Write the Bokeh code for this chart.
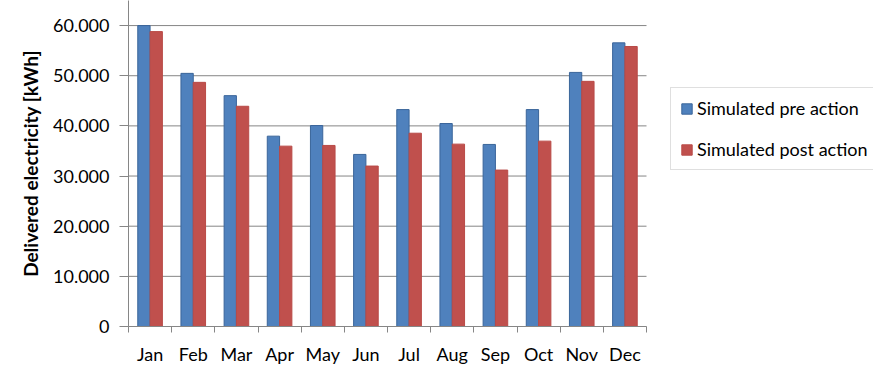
from bokeh.plotting import figure
from bokeh.models import FixedTicker, Legend, LegendItem, ColumnDataSource
from bokeh.transform import dodge
from bokeh.embed import file_html
from bokeh.resources import INLINE

months = ["Jan", "Feb", "Mar", "Apr", "May", "Jun", "Jul", "Aug", "Sep", "Oct", "Nov", "Dec"]
pre_action = [60000, 50470, 46030, 37950, 40070, 34310, 43250, 40470, 36300, 43250, 50660, 56560]
post_action = [58800, 48680, 43910, 35960, 36100, 31990, 38540, 36360, 31190, 36960, 48880, 55830]
y_ticks = [0, 10000, 20000, 30000, 40000, 50000, 60000]
y_tick_labels = ["0", "10.000", "20.000", "30.000", "40.000", "50.000", "60.000"]

FONT = "Lato"
GRID = "#868686"

W, H = 873, 367
LEFT, PLOT_RIGHT, BOTTOM = 128, 646, 40
n = len(months)
# frame spans to the right edge so that the legend can sit outside the bar area
x_end = n * (W - LEFT) / (PLOT_RIGHT - LEFT)

xc = [i + 0.5 for i in range(n)]
src = ColumnDataSource(dict(xc=xc, pre=pre_action, post=post_action))

p = figure(width=W, height=H, x_range=(0, x_end), y_range=(0, 65000),
           output_backend="svg", toolbar_location=None,
           min_border_left=LEFT, min_border_right=0, min_border_top=0, min_border_bottom=BOTTOM)
p.outline_line_color = None

# horizontal gridlines over the category area only
p.segment(x0=[0] * len(y_ticks), x1=[n] * len(y_ticks), y0=y_ticks, y1=y_ticks,
          line_color=GRID, line_width=1)

r1 = p.vbar(x=dodge("xc", -0.1425, range=p.x_range), top="pre", width=0.285, source=src,
            fill_color="#4F81BD", line_color="#3A659A", line_width=1)
r2 = p.vbar(x=dodge("xc", 0.1425, range=p.x_range), top="post", width=0.285, source=src,
            fill_color="#C0504D", line_color="#B94A47", line_width=1)

# x axis
p.xaxis.bounds = (0, n)
p.xaxis.ticker = FixedTicker(ticks=xc, minor_ticks=list(range(n + 1)))
p.xaxis.major_label_overrides = {xc[i]: months[i] for i in range(n)}
p.xaxis.major_tick_line_color = None
p.xaxis.minor_tick_line_color = GRID
p.xaxis.minor_tick_out = 6
p.xaxis.minor_tick_in = 0
p.xaxis.axis_line_color = GRID
p.xaxis.major_label_text_font = FONT
p.xaxis.major_label_text_font_size = "18px"
p.xaxis.major_label_text_color = "black"
p.xaxis.major_label_standoff = 10
p.xgrid.visible = False
p.ygrid.visible = False

# y axis
p.yaxis.ticker = FixedTicker(ticks=y_ticks)
p.yaxis.major_label_overrides = {y_ticks[i]: y_tick_labels[i] for i in range(len(y_ticks))}
p.yaxis.minor_tick_line_color = None
p.yaxis.major_tick_out = 9
p.yaxis.major_tick_in = 0
p.yaxis.major_tick_line_color = GRID
p.yaxis.axis_line_color = GRID
p.yaxis.major_label_text_font = FONT
p.yaxis.major_label_text_font_size = "18px"
p.yaxis.major_label_text_color = "black"
p.yaxis.major_label_standoff = 10
p.yaxis.axis_label = "Delivered electricity [kWh]"
p.yaxis.axis_label_text_font = FONT
p.yaxis.axis_label_text_font_size = "19px"
p.yaxis.axis_label_text_font_style = "bold"
p.yaxis.axis_label_text_color = "black"
p.yaxis.axis_label_standoff = 8

legend = Legend(items=[LegendItem(label="Simulated pre action", renderers=[r1]),
                       LegendItem(label="Simulated post action", renderers=[r2])],
                location=(542, 156))
legend.border_line_color = "#BFBFBF"
legend.border_line_width = 1
legend.padding = 9
legend.spacing = 19
legend.margin = 0
legend.label_height = 20
legend.glyph_width = 13
legend.glyph_height = 13
legend.label_standoff = 4
legend.label_text_font = FONT
legend.label_text_font_size = "18px"
legend.label_text_color = "black"
legend.background_fill_alpha = 1
p.add_layout(legend)

open("out.html", "w").write(file_html(p, INLINE))
